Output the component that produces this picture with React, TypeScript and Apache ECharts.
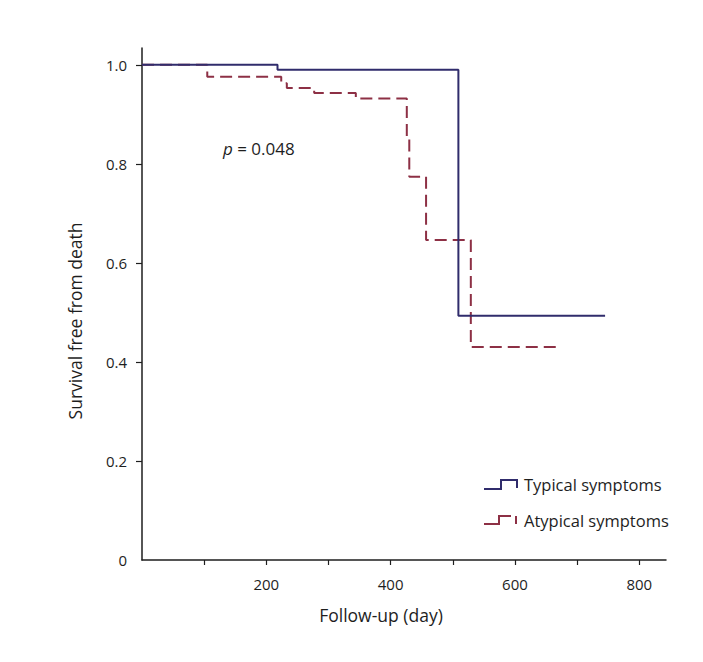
import React, { useEffect, useRef } from "react";
import * as echarts from "echarts";

const typicalTimes = [0, 218, 509, 745];
const typicalSurvival = [1.0, 0.99, 0.4935, 0.4935];

const atypicalTimes = [0, 105, 224, 233, 277, 344, 426, 430, 457, 529, 669];
const atypicalSurvival = [1.0, 0.976, 0.963, 0.953, 0.943, 0.932, 0.852, 0.774, 0.646, 0.43, 0.43];

const xTickValues = [100, 200, 300, 400, 500, 600, 700, 800];
const xLabelValues = [200, 400, 600, 800];
const yTickValues = [0.2, 0.4, 0.6, 0.8, 1.0];
const yLabelValues = [0, 0.2, 0.4, 0.6, 0.8, 1.0];

const seriesNames = ["Typical symptoms", "Atypical symptoms"];
const xAxisTitle = "Follow-up (day)";
const yAxisTitle = "Survival free from death";
const pValueText = "0.048";

const BLUE = "#302c6c";
const RED = "#8d3045";
const AXIS = "#1e1e1e";
const FONT = "Open Sans";

export default function App() {
  const ref = useRef<HTMLDivElement>(null);
  useEffect(() => {
    if (!ref.current) return;
    const chart = echarts.init(ref.current, null, { renderer: "svg" });
    const typicalData = typicalTimes.map((t, i) => [t, typicalSurvival[i]]);
    const atypicalData = atypicalTimes.map((t, i) => [t, atypicalSurvival[i]]);
    chart.setOption({
      animation: false,
      backgroundColor: "#ffffff",
      grid: { left: 142, top: 48, width: 524, height: 512 },
      xAxis: {
        type: "value",
        min: 0,
        max: 843,
        interval: 100,
        splitLine: { show: false },
        axisLine: { show: true, onZero: false, lineStyle: { color: AXIS, width: 1.5 } },
        axisTick: { show: true, length: 5, lineStyle: { color: AXIS, width: 1.2 }, customValues: xTickValues },
        axisLabel: {
          color: AXIS,
          fontFamily: FONT,
          fontSize: 15,
          margin: 16,
          customValues: xLabelValues,
          formatter: (v: number) => String(v),
        },
      },
      yAxis: {
        type: "value",
        min: 0,
        max: 1.034,
        interval: 0.2,
        splitLine: { show: false },
        axisLine: { show: true, onZero: false, lineStyle: { color: AXIS, width: 1.5 } },
        axisTick: { show: true, length: 6, lineStyle: { color: AXIS, width: 1.2 }, customValues: yTickValues },
        axisLabel: {
          color: AXIS,
          fontFamily: FONT,
          fontSize: 15,
          margin: 15,
          customValues: yLabelValues,
          formatter: (v: number) => (v === 0 ? "0" : v.toFixed(1)),
        },
      },
      series: [
        {
          name: seriesNames[0],
          type: "line",
          step: "end",
          data: typicalData,
          showSymbol: false,
          symbol: "none",
          lineStyle: { color: BLUE, width: 2 },
          z: 3,
        },
        {
          name: seriesNames[1],
          type: "line",
          step: "end",
          data: atypicalData,
          showSymbol: false,
          symbol: "none",
          lineStyle: { color: RED, width: 2, type: [12, 6] },
          z: 2,
        },
      ],
      graphic: [
        {
          type: "text",
          x: 75,
          y: 321,
          rotation: Math.PI / 2,
          style: {
            text: yAxisTitle,
            fontFamily: FONT,
            fontSize: 17.5,
            fill: AXIS,
            align: "center",
            verticalAlign: "middle",
          },
        },
        {
          type: "text",
          x: 381,
          y: 615,
          style: {
            text: xAxisTitle,
            fontFamily: FONT,
            fontSize: 17.5,
            fill: AXIS,
            align: "center",
            verticalAlign: "middle",
          },
        },
        {
          type: "text",
          x: 223,
          y: 148,
          style: {
            text: "{i|p} = " + pValueText,
            fontFamily: FONT,
            fontSize: 17,
            fill: AXIS,
            verticalAlign: "middle",
            rich: {
              i: { fontStyle: "italic", fontFamily: FONT, fontSize: 17, fill: AXIS },
            },
          },
        },
        {
          type: "polyline",
          shape: { points: [[484, 489], [501, 489], [501, 480], [517, 480], [517, 488]] },
          style: { stroke: BLUE, lineWidth: 2, fill: null },
        },
        {
          type: "text",
          x: 524,
          y: 484,
          style: { text: seriesNames[0], fontFamily: FONT, fontSize: 16.5, fill: AXIS, verticalAlign: "middle" },
        },
        {
          type: "polyline",
          shape: { points: [[484, 524], [499, 524], [499, 516], [511, 516]] },
          style: { stroke: RED, lineWidth: 2, fill: null },
        },
        {
          type: "line",
          shape: { x1: 516, y1: 516, x2: 516, y2: 524 },
          style: { stroke: RED, lineWidth: 2 },
        },
        {
          type: "text",
          x: 524,
          y: 520,
          style: { text: seriesNames[1], fontFamily: FONT, fontSize: 16.5, fill: AXIS, verticalAlign: "middle" },
        },
      ],
    });
    return () => chart.dispose();
  }, []);
  return <div ref={ref} style={{ position: "fixed", left: 0, top: 0, width: 703, height: 662 }} />;
}
